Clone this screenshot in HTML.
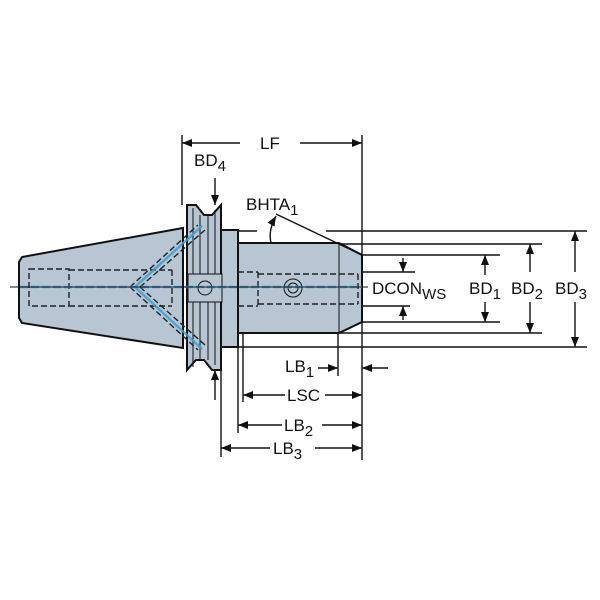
<!DOCTYPE html>
<html><head><meta charset="utf-8"><style>
html,body{margin:0;padding:0;background:#fff}
svg{display:block}
text{font-family:"Liberation Sans",Arial,sans-serif;fill:#111}
</style></head><body>
<svg width="600" height="600" viewBox="0 0 600 600" xmlns="http://www.w3.org/2000/svg">
<defs>
<marker id="a" markerWidth="10" markerHeight="8" refX="10" refY="4" orient="auto" markerUnits="userSpaceOnUse"><path d="M0,0 L10,4 L0,8 z" fill="#111"/></marker>
</defs>
<g stroke="#111" stroke-width="1.4" fill="none">
<line x1="182" y1="135" x2="182" y2="205"/>
<line x1="362" y1="135" x2="362" y2="460"/>
<line x1="338" y1="333" x2="338" y2="376"/>
<line x1="243" y1="333" x2="243" y2="402"/>
<line x1="238" y1="345" x2="238" y2="433"/>
<line x1="221" y1="370" x2="221" y2="457"/>
<line x1="238" y1="231" x2="257" y2="231"/>
<line x1="326" y1="231" x2="587" y2="231"/>
<line x1="340" y1="244" x2="542" y2="244"/>
<line x1="362" y1="255" x2="500" y2="255"/>
<line x1="362" y1="272" x2="415" y2="272"/>
<line x1="362" y1="306" x2="410" y2="306"/>
<line x1="362" y1="322" x2="500" y2="322"/>
<line x1="340" y1="333" x2="542" y2="333"/>
<line x1="238" y1="347" x2="587" y2="347"/>
</g>
<g stroke="#111" stroke-width="2" fill="#b8c5d2">
<path d="M19,262 L22,257 L183,228 L183,348 L22,323 L19,318 Z"/>
<path d="M221,230 L238,230 L238,347 L221,347 Z"/>
<path d="M238,243 L339,243 L362,255 L362,322 L339,333 L238,333 Z"/>
<path d="M187,205 L196,205 L204,215 L212,215 L221,205 L221,370 L212,370 L204,360 L196,360 L187,370 Z"/>
</g>
<g stroke="#111" stroke-width="1" fill="none">
<line x1="193" y1="208" x2="193" y2="367"/><line x1="200" y1="215" x2="200" y2="360"/><line x1="208" y1="215" x2="208" y2="360"/><line x1="215" y1="210" x2="215" y2="365"/>
<line x1="339" y1="243" x2="339" y2="333"/>
<rect x="188" y="274" width="34" height="28" fill="#b8c5d2"/>
<circle cx="205" cy="288" r="7"/>
<circle cx="293" cy="288" r="9"/><circle cx="293" cy="288" r="5"/>
</g>
<g stroke="#222" stroke-width="1.4" fill="none" stroke-dasharray="6,3">
<rect x="29" y="269" width="40" height="37"/>
<line x1="69" y1="270" x2="172" y2="270"/><line x1="69" y1="306" x2="172" y2="306"/>
<line x1="172" y1="270" x2="172" y2="306"/>
<line x1="238" y1="272" x2="258" y2="272"/><line x1="238" y1="306" x2="258" y2="306"/>
<line x1="258" y1="272" x2="258" y2="306"/>
<line x1="258" y1="274" x2="358" y2="274"/><line x1="258" y1="304" x2="358" y2="304"/>
<line x1="358" y1="274" x2="358" y2="304"/>
<line x1="130" y1="287" x2="198" y2="225"/><line x1="140" y1="287" x2="205" y2="230"/>
<line x1="130" y1="287" x2="198" y2="350"/><line x1="140" y1="287" x2="205" y2="345"/>
</g>
<g stroke="#3a9fd8" stroke-width="2.4" fill="none" opacity="0.85">
<line x1="135" y1="287" x2="202" y2="226"/>
<line x1="135" y1="287" x2="202" y2="349"/>
<line x1="20" y1="287" x2="362" y2="287" stroke-dasharray="8,3"/>
</g>
<line x1="10" y1="287" x2="368" y2="287" stroke="#111" stroke-width="1"/>
<g stroke="#111" stroke-width="1.4" fill="none">
<line x1="240" y1="143" x2="182" y2="143" marker-end="url(#a)"/>
<line x1="300" y1="143" x2="362" y2="143" marker-end="url(#a)"/>
<line x1="215" y1="178" x2="215" y2="205" marker-end="url(#a)"/>
<line x1="215" y1="400" x2="215" y2="370" marker-end="url(#a)"/>
<line x1="276" y1="214" x2="362" y2="255"/>
<path d="M271,243 Q268,230 276,216" marker-end="url(#a)"/>
<line x1="318" y1="368" x2="338" y2="368" marker-end="url(#a)"/>
<line x1="388" y1="368" x2="362" y2="368" marker-end="url(#a)"/>
<line x1="285" y1="395" x2="243" y2="395" marker-end="url(#a)"/>
<line x1="325" y1="395" x2="362" y2="395" marker-end="url(#a)"/>
<line x1="282" y1="425" x2="238" y2="425" marker-end="url(#a)"/>
<line x1="322" y1="425" x2="362" y2="425" marker-end="url(#a)"/>
<line x1="270" y1="448" x2="221" y2="448" marker-end="url(#a)"/>
<line x1="315" y1="448" x2="362" y2="448" marker-end="url(#a)"/>
<line x1="403" y1="258" x2="403" y2="272" marker-end="url(#a)"/>
<line x1="403" y1="320" x2="403" y2="306" marker-end="url(#a)"/>
<line x1="485" y1="275" x2="485" y2="255" marker-end="url(#a)"/>
<line x1="485" y1="302" x2="485" y2="322" marker-end="url(#a)"/>
<line x1="530" y1="272" x2="530" y2="244" marker-end="url(#a)"/>
<line x1="530" y1="302" x2="530" y2="333" marker-end="url(#a)"/>
<line x1="575" y1="272" x2="575" y2="231" marker-end="url(#a)"/>
<line x1="575" y1="302" x2="575" y2="347" marker-end="url(#a)"/>
</g>
<g font-size="17">
<text x="260" y="149">LF</text>
<text x="194" y="166">BD<tspan font-size="15" dy="5">4</tspan></text>
<text x="246" y="210">BHTA<tspan font-size="15" dy="5">1</tspan></text>
<text x="372" y="294">DCON<tspan font-size="15" dy="5">WS</tspan></text>
<text x="469" y="294">BD<tspan font-size="15" dy="5">1</tspan></text>
<text x="511" y="294">BD<tspan font-size="15" dy="5">2</tspan></text>
<text x="555" y="294">BD<tspan font-size="15" dy="5">3</tspan></text>
<text x="285" y="372">LB<tspan font-size="15" dy="5">1</tspan></text>
<text x="287" y="401">LSC</text>
<text x="284" y="431">LB<tspan font-size="15" dy="5">2</tspan></text>
<text x="273" y="454">LB<tspan font-size="15" dy="5">3</tspan></text>
</g>
</svg>
</body></html>
